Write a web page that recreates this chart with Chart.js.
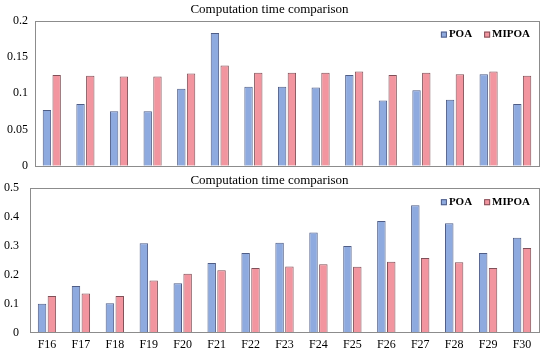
<!DOCTYPE html>
<html>
<head>
<meta charset="utf-8">
<script src="https://cdn.jsdelivr.net/npm/chart.js@4.4.1/dist/chart.umd.min.js"></script>
<style>
  html, body { margin: 0; background: #fff; overflow: hidden; }
  .wrap { position: absolute; left: 0; width: 550px; }
</style>
</head>
<body>
<div class="wrap" style="top:0;height:180px"><canvas id="topChart"></canvas></div>
<div class="wrap" style="top:170px;height:190px"><canvas id="bottomChart"></canvas></div>
<script>
const categories = ['F16', 'F17', 'F18', 'F19', 'F20', 'F21', 'F22', 'F23', 'F24', 'F25', 'F26', 'F27', 'F28', 'F29', 'F30'];
const seriesNames = ['POA', 'MIPOA'];

// upper panel
const poaTop = [0.077, 0.085, 0.075, 0.075, 0.106, 0.183, 0.109, 0.109, 0.108, 0.125, 0.090, 0.104, 0.091, 0.126, 0.085];
const mipoaTop = [0.125, 0.124, 0.123, 0.123, 0.127, 0.138, 0.128, 0.128, 0.128, 0.130, 0.125, 0.128, 0.126, 0.130, 0.124];
const ticksTop = [0, 0.05, 0.1, 0.15, 0.2];

// lower panel
const poaBottom = [0.100, 0.161, 0.102, 0.309, 0.171, 0.241, 0.276, 0.311, 0.347, 0.300, 0.386, 0.441, 0.379, 0.276, 0.328];
const mipoaBottom = [0.127, 0.135, 0.127, 0.180, 0.204, 0.216, 0.224, 0.229, 0.237, 0.228, 0.245, 0.258, 0.244, 0.224, 0.293];
const ticksBottom = [0, 0.1, 0.2, 0.3, 0.4, 0.5];

const colors = ['#8eaadf', '#f2959f'];
const borders = ['#4f5d86', '#805058'];
const serif = 'Liberation Serif, Times New Roman, serif';

// frame around plot + legend in the top right corner
const framePlugin = {
    id: 'frame',
    afterDraw(chart) {
        const { ctx, chartArea: a } = chart;
        ctx.save();
        ctx.strokeStyle = '#8c8c8c';
        ctx.lineWidth = 1;
        ctx.strokeRect(Math.round(a.left) + 0.5, Math.round(a.top) + 0.5, Math.round(a.right - a.left), Math.round(a.bottom - a.top));

        ctx.font = 'bold 11px ' + serif;
        ctx.textBaseline = 'middle';
        let x = a.right - 9;
        const y = a.top + 14;
        const items = chart.data.datasets.slice().reverse();
        items.forEach(ds => {
            const w = ctx.measureText(ds.label).width;
            x -= w;
            ctx.fillStyle = '#000';
            ctx.fillText(ds.label, x, y);
            x -= 8;
            ctx.fillStyle = ds.backgroundColor;
            ctx.fillRect(x, y - 3, 6, 6);
            ctx.strokeStyle = ds.borderColor;
            ctx.strokeRect(x + 0.5, y - 2.5, 5, 5);
            x -= 12;
        });
        ctx.restore();
    }
};

const makeChart = (id, poa, mipoa, ticks, max, yWidth, yPad, showX, padding, titlePad) => {
    const el = document.getElementById(id);
    return new Chart(el, {
        type: 'bar',
        data: {
            labels: categories,
            datasets: [
                { label: seriesNames[0], data: poa, backgroundColor: colors[0], borderColor: borders[0], borderWidth: 1 },
                { label: seriesNames[1], data: mipoa, backgroundColor: colors[1], borderColor: borders[1], borderWidth: 1 }
            ]
        },
        options: {
            responsive: true,
            maintainAspectRatio: false,
            animation: false,
            layout: { padding: padding },
            datasets: { bar: { categoryPercentage: 0.58, barPercentage: 0.86 } },
            plugins: {
                legend: { display: false },
                tooltip: { enabled: false },
                title: {
                    display: true,
                    text: 'Computation time comparison',
                    color: '#000',
                    font: { family: serif, size: 13, weight: 'normal' },
                    padding: titlePad
                }
            },
            scales: {
                x: {
                    display: showX,
                    grid: { display: false, drawTicks: false },
                    border: { display: false },
                    ticks: { color: '#000', font: { family: serif, size: 12 }, padding: 5 }
                },
                y: {
                    min: 0,
                    max: max,
                    grid: { display: false, drawTicks: false },
                    border: { display: false },
                    afterFit(scale) { scale.width = yWidth; },
                    afterBuildTicks(scale) { scale.ticks = ticks.map(v => ({ value: v })); },
                    ticks: {
                        color: '#000',
                        font: { family: serif, size: 12 },
                        padding: yPad,
                        callback: v => String(+v.toFixed(3))
                    }
                }
            }
        },
        plugins: [framePlugin]
    });
};

makeChart('topChart', poaTop, mipoaTop, ticksTop, 0.2, 35, 7, false, { top: 0, right: 11, bottom: 5, left: 0 }, { top: 2, bottom: 3 });
makeChart('bottomChart', poaBottom, mipoaBottom, ticksBottom, 0.5, 30, 11, true, { top: 0, right: 11, bottom: 3, left: 0 }, { top: 0, bottom: 0 });
</script>
</body>
</html>
